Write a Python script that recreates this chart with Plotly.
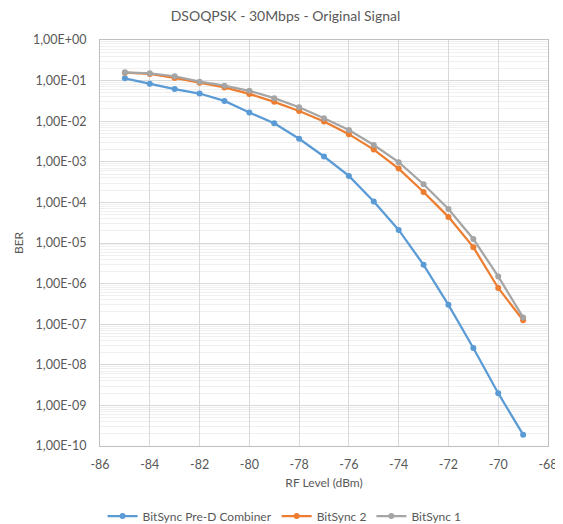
import plotly.graph_objects as go

rf_level = [-85, -84, -83, -82, -81, -80, -79, -78, -77, -76, -75, -74, -73, -72, -71, -70, -69]
ber_pred = [0.114, 0.084, 0.062, 0.048, 0.0316, 0.0163, 0.0089, 0.0037, 0.00135, 0.00045,
            1.05e-4, 2.1e-5, 2.9e-6, 3.0e-7, 2.6e-8, 2.0e-9, 1.9e-10]
ber_bs2 = [0.157, 0.146, 0.116, 0.089, 0.068, 0.047, 0.030, 0.0178, 0.0098, 0.0048,
           0.0020, 6.8e-4, 1.8e-4, 4.4e-5, 7.9e-6, 7.8e-7, 1.25e-7]
ber_bs1 = [0.160, 0.151, 0.128, 0.094, 0.075, 0.056, 0.037, 0.022, 0.0118, 0.0061,
           0.0026, 9.8e-4, 2.8e-4, 6.9e-5, 1.26e-5, 1.5e-6, 1.47e-7]

y_tickvals = [10.0 ** (-k) for k in range(0, 11)]
y_ticktext = ["1,00E+00"] + ["1,00E-%02d" % k for k in range(1, 11)]
x_tickvals = list(range(-86, -67, 2))

series = [
    ("BitSync Pre-D Combiner", ber_pred, "#5B9BD5"),
    ("BitSync 2", ber_bs2, "#ED7D31"),
    ("BitSync 1", ber_bs1, "#A5A5A5"),
]

fig = go.Figure()
for name, vals, col in series:
    fig.add_trace(go.Scatter(
        x=rf_level, y=vals, name=name, mode="lines+markers",
        line=dict(color=col, width=2.25),
        marker=dict(color=col, size=6, symbol="circle"),
    ))

font_color = "#595959"
grid_major = "#D9D9D9"
grid_minor = "#F0F0F0"

# page has an 8px body margin; figure is sized/offset to compensate
W, H = 555, 516
fig.update_layout(
    width=W, height=H,
    margin=dict(l=92, r=15, t=32, b=78, autoexpand=False),
    paper_bgcolor="white", plot_bgcolor="white",
    font=dict(family="Lato, 'Open Sans', sans-serif", size=12, color=font_color),
    title=dict(text="DSOQPSK - 30Mbps - Original Signal", x=0.5, xanchor="center",
               yref="container", y=1 - 8 / H, yanchor="middle",
               font=dict(size=14, color=font_color)),
    showlegend=True,
    legend=dict(orientation="h", x=0.412, xanchor="center", y=-70 / 406, yanchor="middle",
                font=dict(size=12, color=font_color), traceorder="normal"),
)

fig.update_xaxes(
    range=[-86, -68], tickvals=x_tickvals, ticktext=[str(v) for v in x_tickvals],
    tickfont=dict(size=12.5),
    showgrid=True, gridcolor=grid_major, gridwidth=1,
    showline=True, linecolor="#BFBFBF", mirror=True, zeroline=False,
    ticks="", ticklabelstandoff=7, automargin=False,
    title=dict(text="RF Level (dBm)", standoff=7, font=dict(size=12, color=font_color)),
)
fig.update_yaxes(
    type="log", range=[-10, 0], tickvals=y_tickvals, ticktext=y_ticktext,
    tickfont=dict(size=12.5),
    showgrid=True, gridcolor=grid_major, gridwidth=1,
    minor=dict(dtick="D1", showgrid=True, gridcolor=grid_minor, ticks=""),
    showline=True, linecolor="#BFBFBF", mirror=True, zeroline=False,
    ticks="", ticklabelstandoff=10, automargin=False,
    title=dict(text="BER", standoff=6, font=dict(size=12, color=font_color)),
)

fig.write_html("out.html")
